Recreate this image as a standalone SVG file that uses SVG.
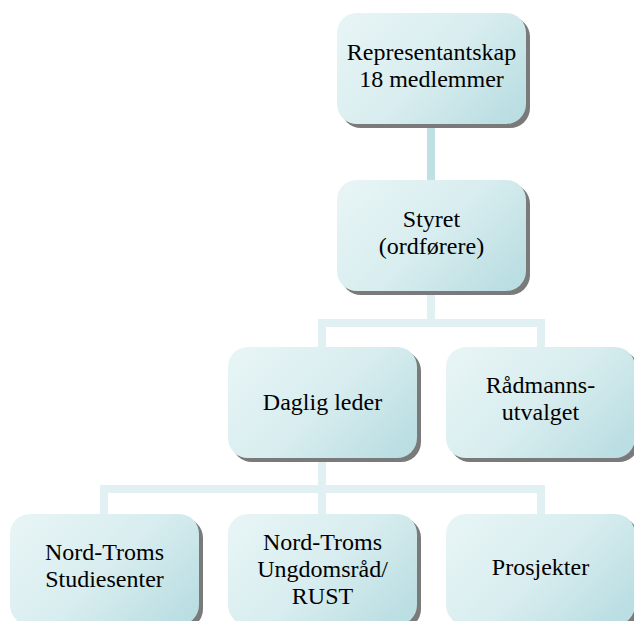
<svg xmlns="http://www.w3.org/2000/svg" width="634" height="621" viewBox="0 0 634 621">
<defs>
<linearGradient id="g" x1="0" y1="0.2" x2="1" y2="0.8">
<stop offset="0" stop-color="#e6f4f5"/>
<stop offset="0.5" stop-color="#d8edef"/>
<stop offset="1" stop-color="#badee2"/>
</linearGradient>
<style>
.box{fill:url(#g);}
.sh{fill:#7a7a7a;}
.t{font-size:24px;fill:#000;text-anchor:middle;}
.c1{stroke:#bfe1e4;stroke-width:8;fill:none;}
.c2{stroke:#e1f1f3;stroke-width:8;fill:none;}
</style>
</defs>
<rect width="634" height="621" fill="#fff"/>
<g id="connectors">
<path class="c1" d="M431 124V181"/>
<path class="c2" d="M431 291V323M322 347V323H541V347"/>
<path class="c2" d="M322 457V489M104 514V489H541V514M322 489V514"/>
</g>
<g font-family="Liberation Serif, Times New Roman, serif">
<g id="n1">
<rect class="sh" x="341" y="17" width="189" height="111" rx="20"/>
<rect class="box" x="337" y="13" width="189" height="111" rx="20"/>
<text class="t" x="431.5" y="60">Representantskap</text>
<text class="t" x="431.5" y="87">18 medlemmer</text>
</g>
<g id="n2">
<rect class="sh" x="341" y="184" width="189" height="111" rx="20"/>
<rect class="box" x="337" y="180" width="189" height="111" rx="20"/>
<text class="t" x="431.5" y="227">Styret</text>
<text class="t" x="431.5" y="254">(ordførere)</text>
</g>
<g id="n3">
<rect class="sh" x="232" y="351" width="189" height="111" rx="20"/>
<rect class="box" x="228" y="347" width="189" height="111" rx="20"/>
<text class="t" x="322.5" y="410">Daglig leder</text>
</g>
<g id="n4">
<rect class="sh" x="450" y="351" width="189" height="111" rx="20"/>
<rect class="box" x="446" y="347" width="189" height="111" rx="20"/>
<text class="t" x="540.5" y="393">Rådmanns-</text>
<text class="t" x="540.5" y="420">utvalget</text>
</g>
<g id="n5">
<rect class="sh" x="14" y="518" width="189" height="111" rx="20"/>
<rect class="box" x="10" y="514" width="189" height="111" rx="20"/>
<text class="t" x="104.5" y="560">Nord-Troms</text>
<text class="t" x="104.5" y="587">Studiesenter</text>
</g>
<g id="n6">
<rect class="sh" x="232" y="518" width="189" height="111" rx="20"/>
<rect class="box" x="228" y="514" width="189" height="111" rx="20"/>
<text class="t" x="322.5" y="550">Nord-Troms</text>
<text class="t" x="322.5" y="577">Ungdomsråd/</text>
<text class="t" x="322.5" y="604">RUST</text>
</g>
<g id="n7">
<rect class="sh" x="450" y="518" width="189" height="111" rx="20"/>
<rect class="box" x="446" y="514" width="189" height="111" rx="20"/>
<text class="t" x="540.5" y="575">Prosjekter</text>
</g>
</g>
</svg>
